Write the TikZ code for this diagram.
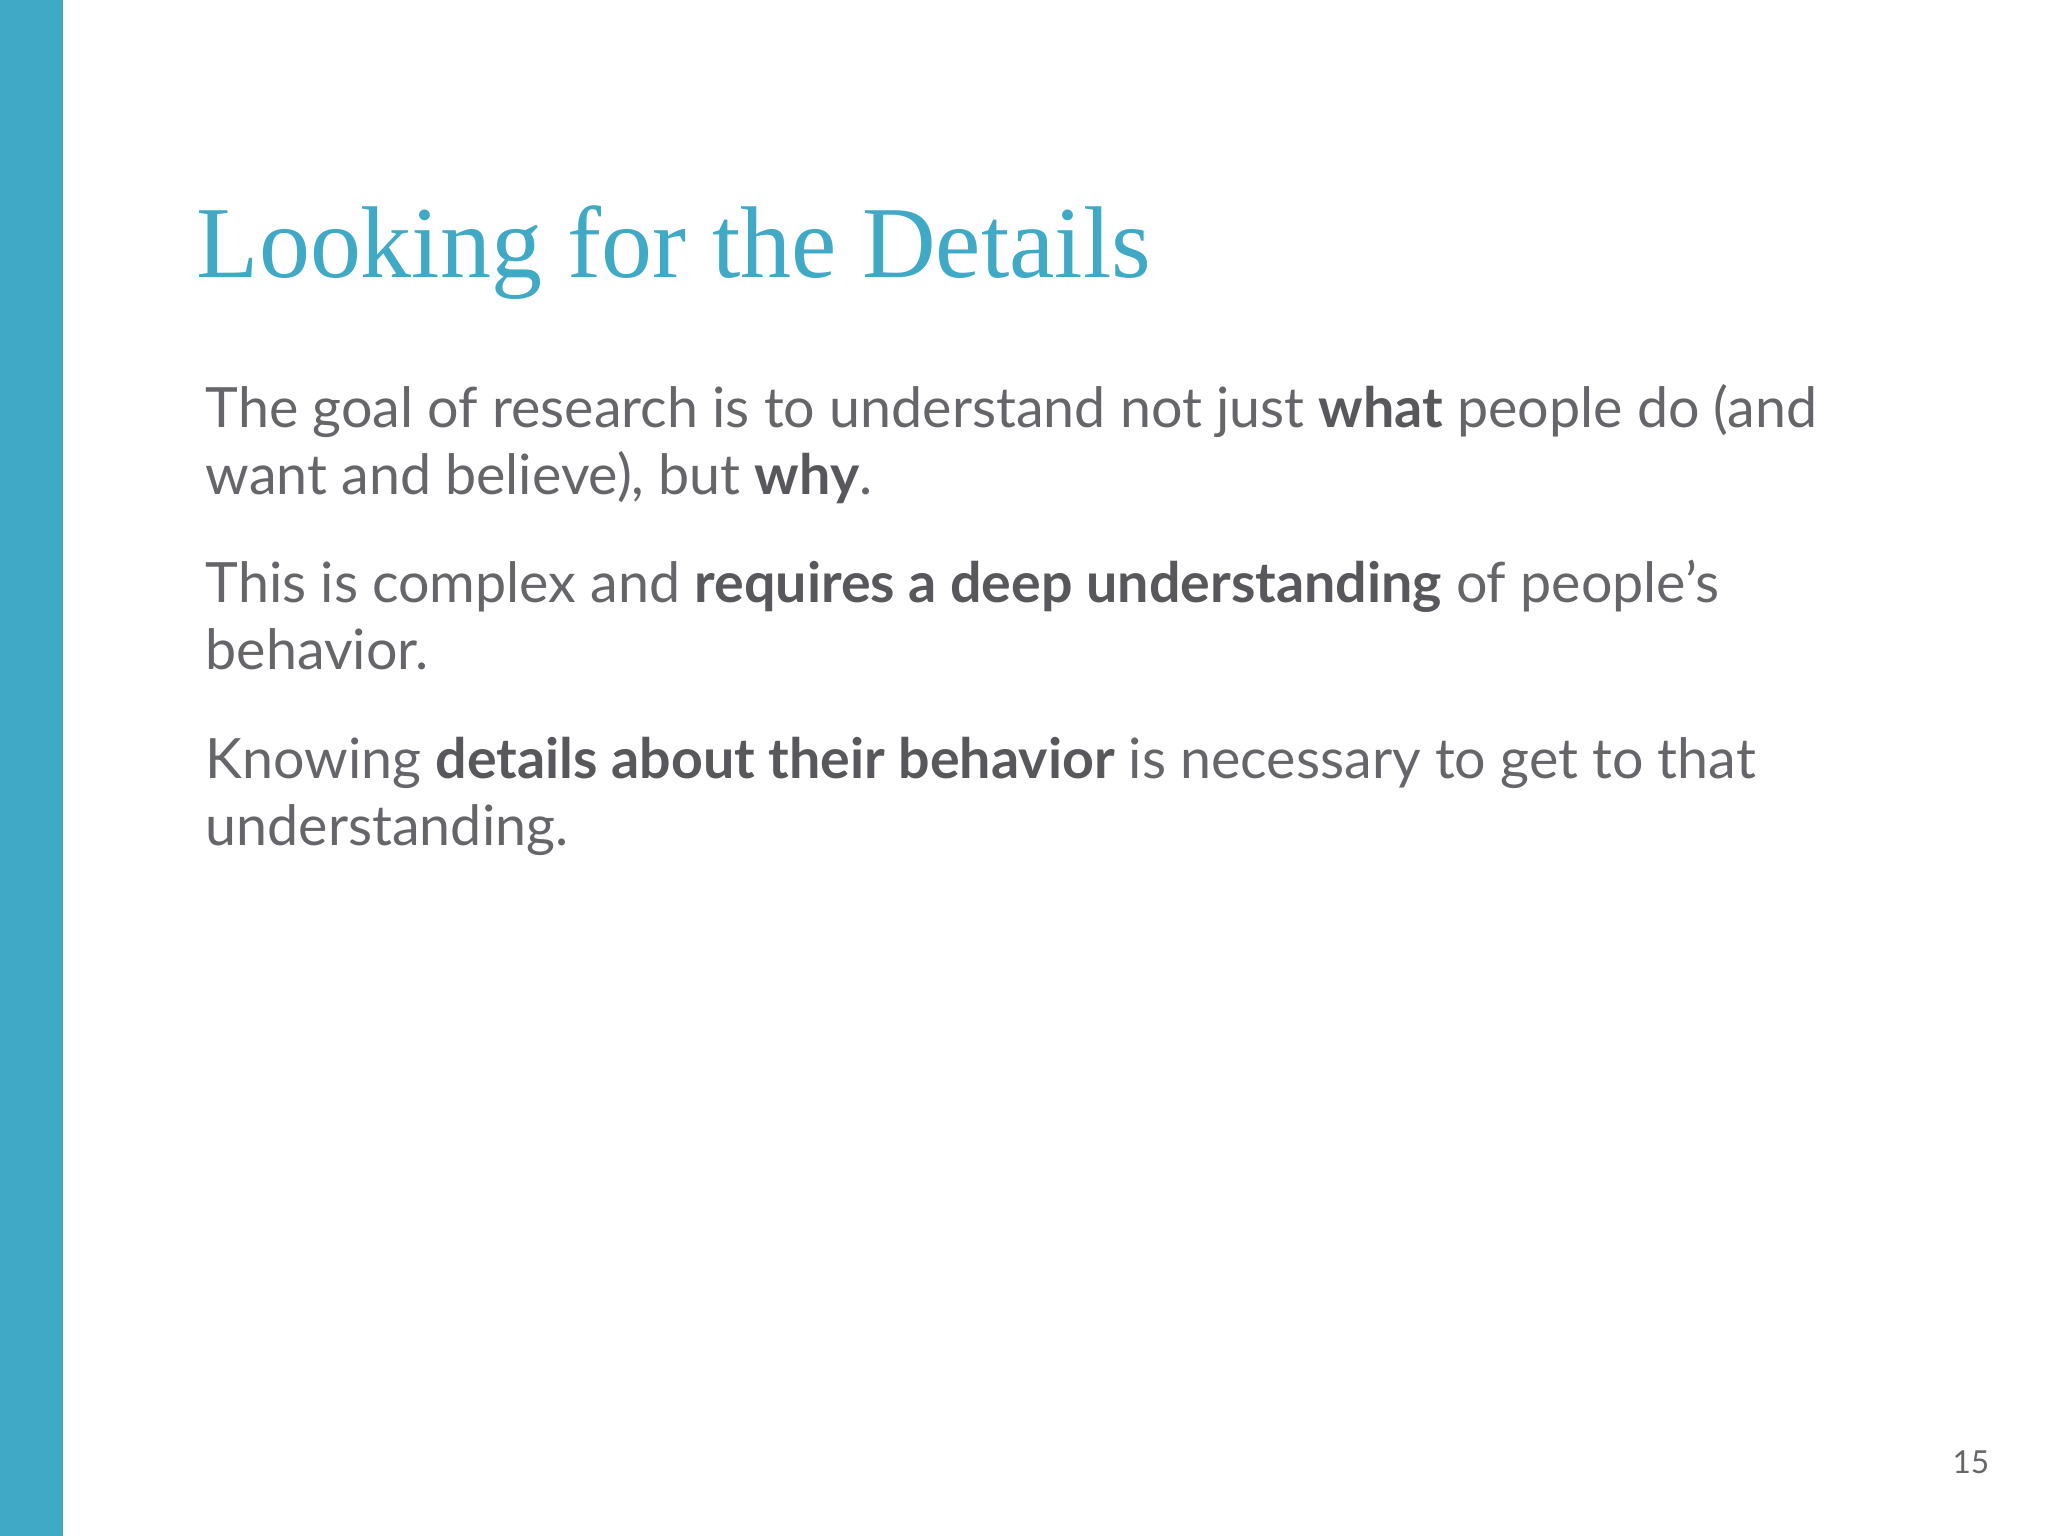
\documentclass[tikz,border=0pt]{standalone}
\usepackage{fontspec}
\setmainfont{Lato}
\newfontfamily\titlefont{Liberation Serif}
\definecolor{teal}{HTML}{3FA9C6}
\definecolor{body}{HTML}{66656A}
\definecolor{bodyb}{HTML}{58575C}
\begin{document}
\begin{tikzpicture}[x=0.01cm,y=-0.01cm,
  line/.style={anchor=base west,inner sep=0pt,text=body,font=\fontsize{15.8}{19}\selectfont}]
\useasboundingbox (0,0) rectangle (2048,1536);
\fill[white] (0,0) rectangle (2048,1536);
\fill[teal] (0,0) rectangle (63,1536);
\newcommand\bb[1]{\textcolor{bodyb}{\textbf{#1}}}
\node[anchor=base west,inner sep=0pt,text=teal,font=\titlefont\fontsize{29}{32}\selectfont] (title) at (196,277) {Looking for the Details};
\node[line] (p1a) at (205,427) {The goal of research is to understand not just \bb{what} people do (and};
\node[line] (p1b) at (205,494) {want and believe), but \bb{why}.};
\node[line] (p2a) at (205,602) {This is complex and \bb{requires a deep understanding} of people’s};
\node[line] (p2b) at (205,669) {behavior.};
\node[line] (p3a) at (205,778) {Knowing \bb{details about their behavior} is necessary to get to that};
\node[line] (p3b) at (205,845) {understanding.};
\node[anchor=base east,inner sep=0pt,text=body,font=\fontsize{9}{10}\selectfont] (pg) at (1990,1473) {15};
\end{tikzpicture}
\end{document}
